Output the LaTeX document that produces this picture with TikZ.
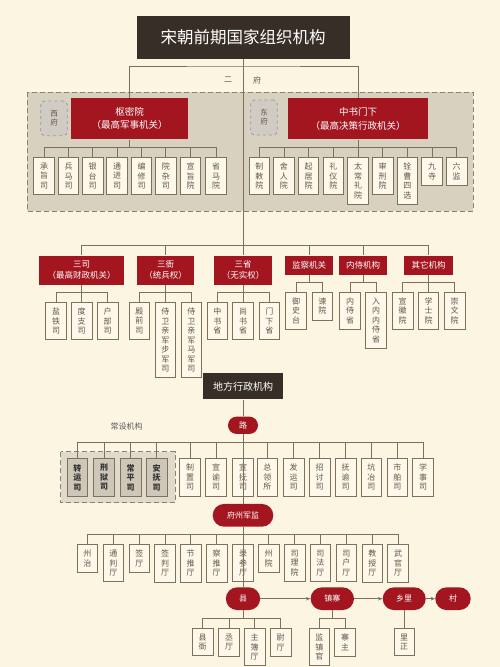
\documentclass[tikz,border=0pt]{standalone}
\usepackage{fontspec}
\setmainfont{Noto Sans CJK SC}
\usepackage{xcolor}
\usetikzlibrary{arrows.meta}

\definecolor{bgcream}{RGB}{251,245,226}
\definecolor{boxfill}{RGB}{253,248,233}
\definecolor{regiongray}{RGB}{217,209,191}
\definecolor{regionline}{RGB}{140,130,115}
\definecolor{darktitle}{RGB}{56,46,40}
\definecolor{songred}{RGB}{163,22,32}
\definecolor{linebrown}{RGB}{125,112,92}
\definecolor{textbrown}{RGB}{100,86,70}
\definecolor{cellgray}{RGB}{206,199,183}
\definecolor{fublue}{RGB}{150,150,168}
\definecolor{fugray}{RGB}{208,204,196}

\begin{document}
\begin{tikzpicture}[x=1pt, y=-1pt,
    link/.style={draw=linebrown, line width=0.8pt},
    cell/.style={draw=linebrown, line width=0.8pt, fill=boxfill, text=textbrown,
        font=\fontsize{8}{9.5}\selectfont, align=center, anchor=north,
        minimum width=20.5pt, inner xsep=0pt, inner ysep=5.5pt},
    graycell/.style={cell, fill=cellgray, text=black!80, font=\fontsize{8}{9.5}\selectfont\bfseries},
    redbox/.style={fill=songred, text=white, align=center, inner sep=0pt},
    tierbox/.style={redbox, font=\fontsize{8.5}{11}\selectfont},
    pill/.style={fill=songred, text=white, inner sep=0pt, minimum height=22.7pt,
        rounded corners=11.3pt, font=\fontsize{8}{8}\selectfont},
    fubox/.style={draw=fublue, dashed, line width=0.8pt, fill=fugray, rounded corners=4pt,
        text=textbrown, align=center, font=\fontsize{7.5}{9}\selectfont, inner sep=0pt},
    small/.style={text=textbrown, font=\fontsize{8}{8}\selectfont}]

    % Background
    \fill[bgcream] (0,0) rectangle (500,667);
    \useasboundingbox (0,0) rectangle (500,667);

    % Title
    \node[fill=darktitle, text=white, minimum width=213pt, minimum height=43pt, inner sep=0pt,
        font=\fontsize{16.5}{16.5}\selectfont] (title) at (243,37.5) {宋朝前期国家组织机构};

    % Two councils
    \draw[dash pattern=on 5pt off 3pt, draw=regionline, line width=0.8pt, fill=regiongray] (27,92) rectangle (473,211);
    \node[small] (er) at (228,80) {二};
    \node[small] (fu) at (257,80) {府};
    \node[fubox, minimum width=26.6pt, minimum height=34.7pt] (xifu) at (54,118.3) {西\\府};
    \node[fubox, minimum width=26.6pt, minimum height=35pt] (dongfu) at (264,117.5) {东\\府};
    \node[redbox, minimum width=117.6pt, minimum height=41.6pt, font=\fontsize{9.5}{13.5}\selectfont] (shumi) at (129.5,118.5) {枢密院\\（最高军事机关）};
    \node[redbox, minimum width=140pt, minimum height=41pt, font=\fontsize{9.5}{13.5}\selectfont] (zhongshu) at (358,118.8) {中书门下\\（最高决策行政机关）};

    \coordinate (erfu) at (243,66);
    \coordinate (hub) at (243,245.7);
    \draw[link] (title.south) -- (hub);
    \draw[link] (shumi.north) |- (erfu) -| (zhongshu.north);

    % Shumiyuan offices
    \coordinate (smbar) at (129.5,147.7);
    \draw[link] (shumi.south) -- (smbar);
    \foreach \i/\x/\txt in {1/44/承\\旨\\司, 2/68.5/兵\\马\\司, 3/92.7/银\\台\\司, 4/117/通\\进\\司,
        5/141.5/编\\修\\司, 6/165.8/院\\杂\\司, 7/190.5/宣\\旨\\院, 8/216/省\\马\\院} {
        \node[cell] (sm\i) at (\x,157) {\txt};
        \draw[link] (smbar) -| (sm\i.north);
    }

    % Zhongshu menxia offices
    \coordinate (zsbar) at (358,147.7);
    \draw[link] (zhongshu.south) -- (zsbar);
    \foreach \i/\x/\txt in {1/259.3/制\\敕\\院, 2/283.9/舍\\人\\院, 3/308.6/起\\居\\院, 4/333.3/礼\\仪\\院,
        5/358/太\\常\\礼\\院, 6/382.7/审\\刑\\院, 7/407.3/铨\\曹\\四\\选, 8/432/九\\寺, 9/456.7/六\\监} {
        \node[cell] (zs\i) at (\x,157) {\txt};
        \draw[link] (zsbar) -| (zs\i.north);
    }

    % Second tier
    \node[tierbox, minimum width=84.7pt, minimum height=29.3pt] (sansi) at (81.7,270.3) {三司\\（最高财政机关）};
    \node[tierbox, minimum width=57.6pt, minimum height=29.3pt] (sanya) at (165.5,270.3) {三衙\\（统兵权）};
    \node[tierbox, minimum width=57.3pt, minimum height=29.3pt] (sansheng) at (243,270.3) {三省\\（无实权）};
    \node[tierbox, minimum width=48.3pt, minimum height=19.3pt] (jiancha) at (309,265.3) {监察机关};
    \node[tierbox, minimum width=48.3pt, minimum height=19.3pt] (neishi) at (363,265.3) {内侍机构};
    \node[tierbox, minimum width=48.3pt, minimum height=19.3pt] (qita) at (428.5,265.3) {其它机构};
    \foreach \n in {sansi, sanya, sansheng, jiancha, neishi, qita}
        \draw[link] (hub) -| (\n.north);

    \coordinate (sansibar) at (81.7,292.7);
    \draw[link] (sansi.south) -- (sansibar);
    \foreach \i/\x/\txt in {1/56/盐\\铁\\司, 2/81.7/度\\支\\司, 3/107.7/户\\部\\司} {
        \node[cell] (ss\i) at (\x,302) {\txt};
        \draw[link] (sansibar) -| (ss\i.north);
    }

    \coordinate (sanyabar) at (165.5,292.7);
    \draw[link] (sanya.south) -- (sanyabar);
    \foreach \i/\x/\txt in {1/139.3/殿\\前\\司, 2/165.3/侍\\卫\\亲\\军\\步\\军\\司, 3/191.3/侍\\卫\\亲\\军\\马\\军\\司} {
        \node[cell] (sy\i) at (\x,302) {\txt};
        \draw[link] (sanyabar) -| (sy\i.north);
    }

    \coordinate (sanshengbar) at (243,292.7);
    \draw[link] (sansheng.south) -- (sanshengbar);
    \foreach \i/\x/\txt in {1/217.3/中\\书\\省, 2/243/尚\\书\\省, 3/269.3/门\\下\\省} {
        \node[cell] (sx\i) at (\x,302) {\txt};
        \draw[link] (sanshengbar) -| (sx\i.north);
    }

    \coordinate (jianchabar) at (309,282.3);
    \draw[link] (jiancha.south) -- (jianchabar);
    \foreach \i/\x/\txt in {1/296/御\\史\\台, 2/322.3/谏\\院} {
        \node[cell] (jc\i) at (\x,291.7) {\txt};
        \draw[link] (jianchabar) -| (jc\i.north);
    }

    \coordinate (neishibar) at (363,282.3);
    \draw[link] (neishi.south) -- (neishibar);
    \foreach \i/\x/\txt in {1/350/内\\侍\\省, 2/376/入\\内\\内\\侍\\省} {
        \node[cell] (ns\i) at (\x,291.7) {\txt};
        \draw[link] (neishibar) -| (ns\i.north);
    }

    \coordinate (qitabar) at (428.5,282.3);
    \draw[link] (qita.south) -- (qitabar);
    \foreach \i/\x/\txt in {1/402.7/宣\\徽\\院, 2/428.6/学\\士\\院, 3/454.7/崇\\文\\院} {
        \node[cell] (qt\i) at (\x,291.7) {\txt};
        \draw[link] (qitabar) -| (qt\i.north);
    }

    % Local administration
    \node[fill=darktitle, text=white, minimum width=79.3pt, minimum height=26pt, inner sep=0pt,
        font=\fontsize{10}{10}\selectfont] (difang) at (243,386.3) {地方行政机构};
    \node[pill, minimum width=30pt, minimum height=17.3pt, rounded corners=8.6pt] (lu) at (243,425.3) {路};
    \draw[link] (difang.south) -- (lu.north);

    % Circuit offices
    \node[small, text=black!65] (changshe) at (126.7,426) {常设机构};
    \draw[dash pattern=on 5pt off 3pt, draw=regionline, line width=0.8pt, fill=regiongray!80] (60.7,451.7) rectangle (175,502.7);
    \coordinate (lubar) at (243,442.7);
    \foreach \i/\x/\txt in {1/77.3/转\\运\\司, 2/104/刑\\狱\\司, 3/130.7/常\\平\\司, 4/156.7/安\\抚\\司} {
        \node[graycell] (lu\i) at (\x,458.3) {\txt};
        \draw[link] (lubar) -| (lu\i.north);
    }
    \foreach \i/\x/\txt in {5/190/制\\置\\司, 6/216/宣\\谕\\司, 7/243/宣\\抚\\司, 8/267.3/总\\领\\所,
        9/293.7/发\\运\\司, 10/319.7/招\\讨\\司, 11/345.7/抚\\谕\\司, 12/371.3/坑\\冶\\司,
        13/397.3/市\\舶\\司, 14/423/学\\事\\司} {
        \node[cell] (lu\i) at (\x,458.3) {\txt};
        \draw[link] (lubar) -| (lu\i.north);
    }

    % Prefectures
    \node[pill, minimum width=60.6pt] (fuzhou) at (243,515.3) {府州军监};
    \draw[link] (lu.south) -- (fuzhou.north);
    \coordinate (fzbar) at (243,534.7);
    \foreach \i/\x/\txt in {1/87.3/州\\治, 2/113.3/通\\判\\厅, 3/139.3/签\\厅, 4/165/签\\判\\厅,
        5/190.7/节\\推\\厅, 6/216.7/察\\推\\厅, 7/243/录\\参\\厅, 8/268.7/州\\院,
        9/294.7/司\\理\\院, 10/320.3/司\\法\\厅, 11/346.3/司\\户\\厅, 12/372.3/教\\授\\厅,
        13/398/武\\官\\厅} {
        \node[cell] (fz\i) at (\x,544.3) {\txt};
        \draw[link] (fzbar) -| (fz\i.north);
    }

    % Counties and below
    \node[pill, minimum width=34.3pt] (xian) at (243,598.7) {县};
    \node[pill, minimum width=43.3pt] (zhenzhai) at (332.3,598.7) {镇寨};
    \node[pill, minimum width=43pt] (xiangli) at (404.2,598.7) {乡里};
    \node[pill, minimum width=35.4pt] (cun) at (453,598.7) {村};
    \draw[link] (fuzhou.south) -- (xian.north);
    \draw[link, -{Stealth[length=4.5pt, width=3.5pt]}] (xian) -- (zhenzhai);
    \draw[link, -{Stealth[length=4.5pt, width=3.5pt]}] (zhenzhai) -- (xiangli);
    \draw[link, -{Stealth[length=4.5pt, width=3.5pt]}] (xiangli) -- (cun);

    \coordinate (xianbar) at (243,618.3);
    \draw[link] (xian.south) -- (xianbar);
    \foreach \i/\x/\txt in {1/202.7/县\\衙, 2/229/丞\\厅, 3/254.7/主\\簿\\厅, 4/280.7/尉\\厅} {
        \node[cell] (xn\i) at (\x,628) {\txt};
        \draw[link] (xianbar) -| (xn\i.north);
    }

    \coordinate (zzbar) at (332.3,618.3);
    \draw[link] (zhenzhai.south) -- (zzbar);
    \foreach \i/\x/\txt in {1/319.3/监\\镇\\官, 2/345/寨\\主} {
        \node[cell] (zz\i) at (\x,628) {\txt};
        \draw[link] (zzbar) -| (zz\i.north);
    }

    \node[cell] (xl1) at (404.2,628) {里\\正};
    \draw[link] (xiangli.south) -- (xl1.north);
\end{tikzpicture}
\end{document}
